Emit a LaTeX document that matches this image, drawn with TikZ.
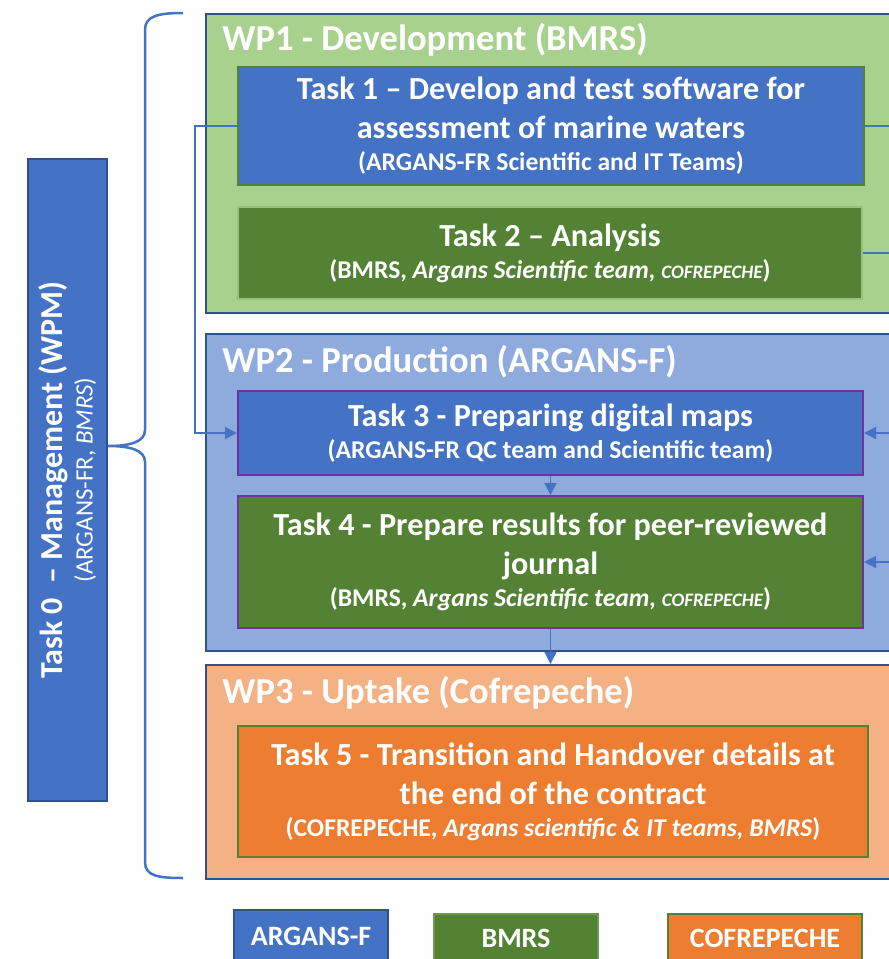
\documentclass[tikz,border=0pt]{standalone}
\usepackage{fontspec}
\setmainfont{Carlito}
\usepackage{tikz}
\usepackage{xcolor}
\usetikzlibrary{arrows.meta}
\definecolor{taskblue}{HTML}{4472C4}
\definecolor{wpborder}{HTML}{2F528F}
\definecolor{wpgreen}{HTML}{A9D18E}
\definecolor{taskgreen}{HTML}{548235}
\definecolor{wpblue}{HTML}{8FAADC}
\definecolor{wporange}{HTML}{F4B183}
\definecolor{taskorange}{HTML}{ED7D31}
\definecolor{taskpurple}{HTML}{7030A0}
\newcommand\teams[1]{{\fontsize{12.8}{15}\selectfont #1}}
\newcommand\cofsc{{\fontsize{9.5}{11}\selectfont\itshape COFREPECHE}}
\tikzset{
    wp-box/.style = {draw=wpborder, line width=1pt, rectangle, anchor=north west, inner sep=0pt},
    wp-title/.style = {text=white, font=\fontsize{18.3}{22}\selectfont\bfseries, anchor=base west, inner sep=0pt},
    task-box/.style = {rectangle, anchor=north west, inner sep=0pt, line width=1pt, text=white, align=center, font=\fontsize{16.1}{19.5}\selectfont\bfseries},
    legend-box/.style = {rectangle, anchor=north west, inner sep=0pt, line width=1pt, text=white, font=\fontsize{14}{16}\selectfont\bfseries},
    link/.style = {draw=taskblue, line width=0.6pt, -{Triangle[length=6pt,width=6pt]}},
}

\begin{document}
\begin{tikzpicture}[x=0.5pt, y=-0.5pt]
\useasboundingbox (0,0) rectangle (889,959);

% work packages
\node[wp-box, fill=wpgreen, minimum width=352.5pt, minimum height=149.5pt] (wp1) at (205,13) {};
\node[wp-box, fill=wpblue, minimum width=352.5pt, minimum height=158.5pt] (wp2) at (205,333) {};
\node[wp-box, fill=wporange, minimum width=352.5pt, minimum height=107pt] (wp3) at (205,664) {};
\node[wp-title] (wp1-title) at (222,50) {WP1 - Development (BMRS)};
\node[wp-title] (wp2-title) at (222,372) {WP2 - Production (ARGANS-F)};
\node[wp-title] (wp3-title) at (222,703) {WP3 - Uptake (Cofrepeche)};

% tasks
\node[task-box, fill=taskblue, draw=taskgreen, minimum width=313pt, minimum height=59pt] (task1) at (237,66)
    {Task 1 -- Develop and test software for\\ assessment of marine waters\\[-3.5pt] \teams{(ARGANS-FR Scientific and IT Teams)}};
\node[task-box, fill=taskgreen, draw=wpgreen!80!taskgreen, minimum width=312pt, minimum height=46pt] (task2) at (237,206)
    {Task 2 -- Analysis\\[-3.5pt] \teams{(BMRS, \textit{Argans Scientific team, }\cofsc)}};
\node[task-box, fill=taskblue, draw=taskpurple, minimum width=312.5pt, minimum height=42pt] (task3) at (237,390)
    {Task 3 - Preparing digital maps\\[-3.5pt] \teams{(ARGANS-FR QC team and Scientific team)}};
\node[task-box, fill=taskgreen, draw=taskpurple, minimum width=312.5pt, minimum height=66pt] (task4) at (237,495)
    {Task 4 - Prepare results for peer-reviewed\\ journal\\[-3.5pt] \teams{(BMRS, \textit{Argans Scientific team, }\cofsc)}};
\node[task-box, fill=taskorange, draw=taskgreen, minimum width=315pt, minimum height=65.5pt] (task5) at (237,725)
    {Task 5 - Transition and Handover details at\\ the end of the contract\\[-3.5pt] \teams{(COFREPECHE, \textit{Argans scientific \& IT teams, BMRS})}};

% management
\node[rotate=90, fill=taskblue, draw=wpborder, line width=1pt, minimum width=321pt, minimum height=39.5pt, inner sep=0pt,
    text=white, align=center, font=\fontsize{16}{18}\selectfont\bfseries] (task0) at (67.5,480)
    {Task 0~~-- Management (WPM)\\[-3pt] {\fontsize{12.5}{15}\selectfont\mdseries(ARGANS-FR, \textit{BMRS})}};
\draw[taskblue, line width=1.25pt] (183,13) .. controls (158,13) and (145,16) .. (145,30) -- (145,430)
    .. controls (145,442) and (130,446) .. (108,446)
    .. controls (130,446) and (145,450) .. (145,462) -- (145,862)
    .. controls (145,876) and (158,878) .. (183,878);

% connectors
\draw[link] (task1.west) -- ++(-42,0) |- (task3.west);
\draw[link] (task1.east) -- ++(60,0) |- (task3.east);
\draw[link] (task2.east) -- ++(80,0) |- (task4.east);
\draw[link] (task3.south) -- (task4.north);
\draw[link] (task4.south) -- (task4.south |- wp3.north);

% legend
\node[legend-box, fill=taskblue, draw=wpborder, minimum width=77pt, minimum height=26pt] (key-argans) at (233,909) {ARGANS-F};
\node[legend-box, fill=taskgreen, draw=taskgreen!70!wpgreen, minimum width=82pt, minimum height=24pt] (key-bmrs) at (433,913) {BMRS};
\node[legend-box, fill=taskorange, draw=taskgreen, minimum width=97pt, minimum height=24pt] (key-cofrepeche) at (667,913) {COFREPECHE};
\end{tikzpicture}
\end{document}
